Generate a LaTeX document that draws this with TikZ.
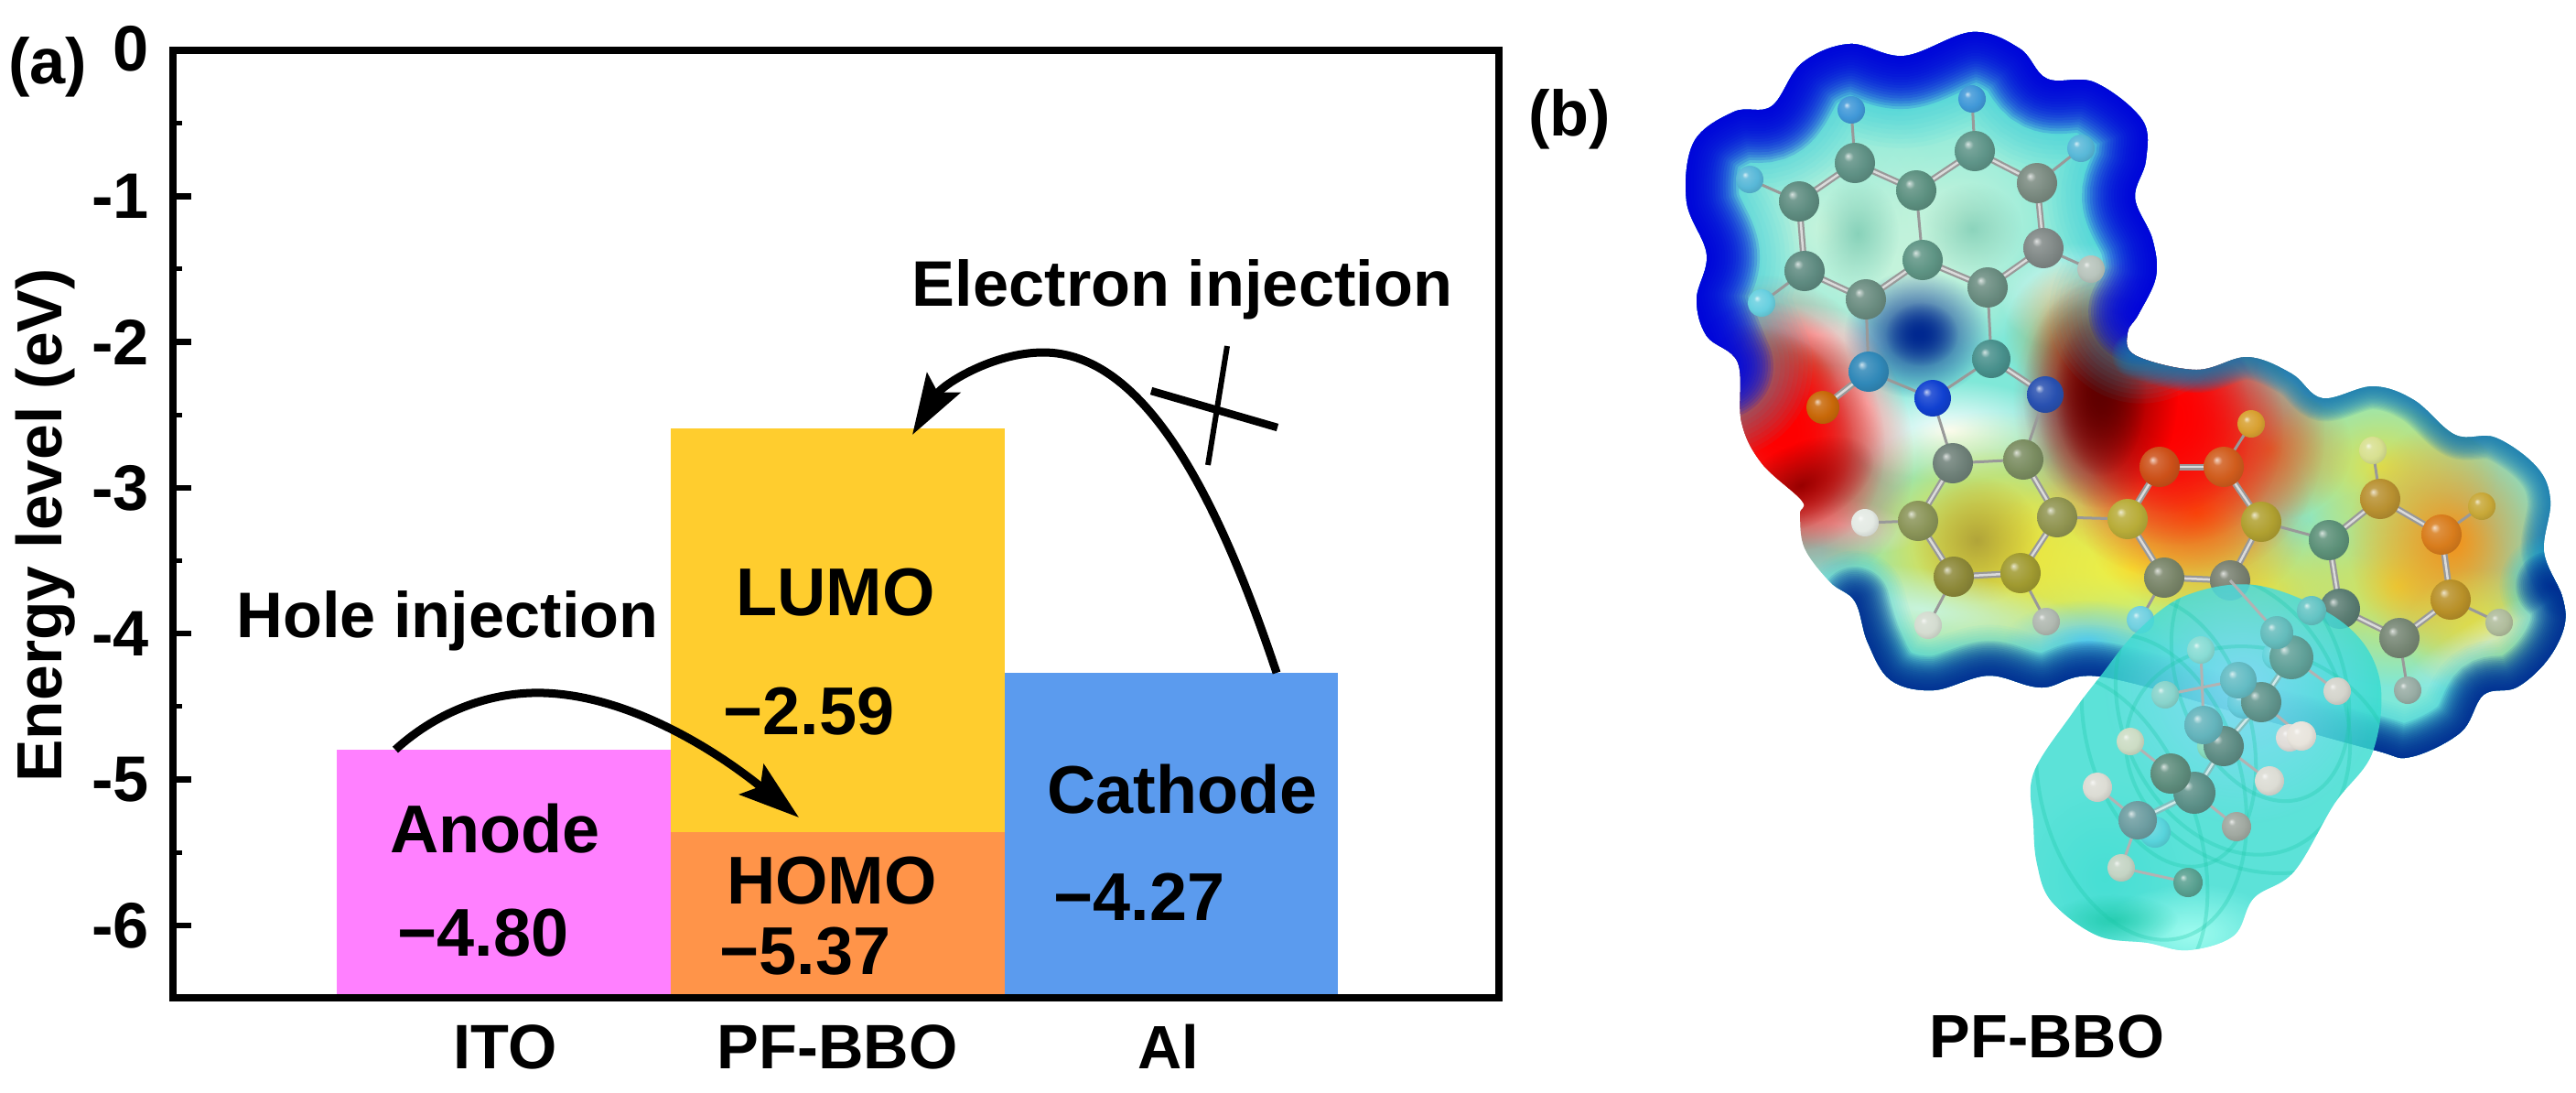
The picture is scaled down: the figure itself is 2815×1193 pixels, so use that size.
\documentclass[tikz,border=0pt]{standalone}
\usepackage{fontspec}
\setmainfont{Liberation Sans}
\usetikzlibrary{arrows.meta,fadings}
\tikzfading[name=softfade, inner color=transparent!0, middle color=transparent!25, outer color=transparent!100]
\definecolor{atomcol}{HTML}{808080}
\pgfdeclareradialshading[atomcol]{softball}{\pgfqpoint{-9bp}{9bp}}{color(0bp)=(atomcol!25!white); color(6bp)=(atomcol!85!white); color(20bp)=(atomcol); color(34bp)=(atomcol!85!black); color(50bp)=(atomcol!65!black)}
\tikzset{
  x=0.01cm,y=-0.01cm,
  every node/.style={inner sep=0pt,outer sep=0pt},
  frameline/.style={black,line width=0.075cm},
  majortick/.style={black,line width=0.065cm},
  minortick/.style={black,line width=0.05cm},
  bar/.style={rectangle,draw=none,anchor=north west},
  lab/.style={font=\fontsize{21}{21}\bfseries\selectfont,anchor=base},
  axlab/.style={font=\fontsize{20}{20}\bfseries\selectfont},
  curvearrow/.style={black,line width=0.09cm,-{Stealth[length=0.66cm,width=0.42cm,inset=0.12cm]}},
  bond/.style={line width=0.03cm,draw=#1},
  bond/.default={gray!80},
  dbond/.style={line width=0.07cm,draw=#1,postaction={draw=white!65!#1,line width=0.025cm}},
  dbond/.default={gray!80},
}
\definecolor{anodec}{HTML}{FF80FF}
\definecolor{lumoc}{HTML}{FFCD2E}
\definecolor{homoc}{HTML}{FF9449}
\definecolor{cathc}{HTML}{5B9BEE}
\definecolor{basemint}{HTML}{7FE8D8}
\definecolor{ringpale}{HTML}{C8F4DC}
\definecolor{ringspot}{HTML}{70C4AC}
\definecolor{rimblue}{HTML}{0000E0}
\definecolor{rimcyan}{HTML}{20C8E8}
\definecolor{rimteal}{HTML}{1878B0}
\definecolor{rimnavy}{HTML}{002890}
\definecolor{espyellow}{HTML}{E8E040}
\definecolor{espbright}{HTML}{F8F038}
\definecolor{espolive}{HTML}{A89A38}
\definecolor{esporange}{HTML}{F49018}
\definecolor{espdeep}{HTML}{E86A10}
\definecolor{espdark}{HTML}{600000}
\definecolor{espbrown}{HTML}{B89028}
\definecolor{alkylc}{HTML}{38DCD0}
\definecolor{alkylarc}{HTML}{1CC8A8}
% soft colour patch: colour, x, y, rx, ry, rotation, opacity
\newcommand{\patch}[7]{\begin{scope}[transform canvas={rotate around={#6:(#2,#3)}}]
  \fill[color=#1,opacity=#7,path fading=softfade] (#2,#3) ellipse[x radius=#4*0.01cm,y radius=#5*0.01cm];
  \end{scope}}
% inner glow along a stretch of the outline
\newcommand{\glow}[4]{\foreach \i in {1,...,20}{
  \draw[color=#1,opacity=#3,line width={\i*#2*0.0005cm},line cap=round]
    plot[smooth,tension=0.6] coordinates {#4};}}
\newcommand{\ball}[3]{\definecolor{atomcol}{HTML}{#2}\shade[shading=softball] (#1) circle[radius=#3*0.01cm];}
\newcommand{\mainoutline}{(2081,61) (2155,35) (2207,53) (2237,86) (2289,90) (2341,131) (2345,175) (2333,216) (2352,261) (2356,302) (2337,343) (2325,363) (2333,388) (2400,404) (2456,390) (2504,408) (2538,435) (2593,422) (2638,437) (2683,475) (2727,478) (2772,510) (2787,547) (2780,603) (2800,652) (2802,685) (2783,722) (2750,751) (2714,759) (2689,800) (2634,827) (2593,819) (2450,780) (2295,739) (2231,751) (2173,738) (2113,754) (2066,743) (2041,702) (2027,657) (2000,636) (1972,599) (1967,562) (1969,547) (1925,506) (1903,461) (1899,396) (1865,367) (1854,327) (1865,278) (1843,220) (1851,155) (1895,122) (1936,116) (1969,69) (2021,48)}
\newcommand{\alkyloutline}{(2335,690) (2295,739) (2264,780) (2222,845) (2222,899) (2226,944) (2242,985) (2292,1022) (2347,1030) (2391,1038) (2441,1022) (2463,981) (2507,952) (2551,878) (2593,821) (2600,740) (2560,680) (2470,640) (2390,650)}
\begin{document}
\begin{tikzpicture}
\useasboundingbox (0,0) rectangle (2815,1193);
% ---------- panel (a): bars
\node[bar,fill=anodec,minimum width=3.65cm,minimum height=2.71cm] (anode) at (368,819) {};
\node[bar,fill=lumoc,minimum width=3.65cm,minimum height=4.42cm] (lumo) at (733,468) {};
\node[bar,fill=homoc,minimum width=3.65cm,minimum height=1.81cm] (homo) at (733,909) {};
\node[bar,fill=cathc,minimum width=3.64cm,minimum height=3.55cm] (cath) at (1098,735) {};
% frame and ticks
\draw[frameline] (189,55) rectangle (1638,1090);
\foreach \v/\t in {1/-1,2/-2,3/-3,4/-4,5/-5,6/-6}{
  \draw[majortick] (189,55+\v*159.3) -- ++(20,0);
  \node[axlab,anchor=east] at (163,55+\v*159.3) {\t};
}
\node[axlab,anchor=east] (zero) at (163,53) {0};
\foreach \v in {0.5,1.5,...,5.5} \draw[minortick] (189,55+\v*159.3) -- ++(10,0);
\node[axlab,font=\fontsize{19.8}{20}\bfseries\selectfont,rotate=90] (ylabel) at (50,574) {Energy level (eV)};
\node[axlab,anchor=center] (panela) at (52,73) {(a)};
\node[axlab,anchor=center] (panelb) at (1715,130) {(b)};
% labels
\node[lab] (tlumo) at (913,672) {LUMO};
\node[lab] (vlumo) at (884,802) {−2.59};
\node[lab] (thomo) at (909,987) {HOMO};
\node[lab] (vhomo) at (880,1064) {−5.37};
\node[lab] (tanode) at (541,931) {Anode};
\node[lab] (vanode) at (528,1044) {−4.80};
\node[lab] (tcath) at (1292,888) {Cathode};
\node[lab] (vcath) at (1245,1005) {−4.27};
\node[lab,font=\fontsize{20}{20}\bfseries\selectfont] (hole) at (489,696) {Hole injection};
\node[lab,font=\fontsize{20}{20}\bfseries\selectfont] (elec) at (1292,334) {Electron injection};
\node[lab,font=\fontsize{19.5}{20}\bfseries\selectfont] (ito) at (552,1167) {ITO};
\node[lab,font=\fontsize{19.5}{20}\bfseries\selectfont] (pf) at (915,1167) {PF-BBO};
\node[lab,font=\fontsize{19}{20}\bfseries\selectfont] (al) at (1277,1167) {Al};
\node[lab,font=\fontsize{19}{20}\bfseries\selectfont] (pfb) at (2237,1155) {PF-BBO};
% arrows
\coordinate (hs) at (432,819); \coordinate (he) at (873,893);
\coordinate (es) at (1395,735); \coordinate (ee) at (997,475);
\draw[curvearrow] (hs) .. controls (480,775) and (540,755) .. (595,757) .. controls (680,760) and (770,810) .. (he);
\draw[curvearrow] (es) .. controls (1330,540) and (1250,385) .. (1140,385) .. controls (1085,385) and (1030,420) .. (ee);
\coordinate (xa) at (1258,427); \coordinate (xb) at (1396,467);
\coordinate (xc) at (1341,378); \coordinate (xd) at (1320,508);
\draw[black,line width=0.085cm] (xa) -- (xb);
\draw[black,line width=0.06cm] (xc) -- (xd);
% ---------- panel (b): electrostatic surface
\begin{scope}
\clip plot[smooth cycle,tension=0.6] coordinates {\mainoutline};
\fill[color=basemint] (1800,0) rectangle (2815,900);
\patch{ringpale}{1995}{250}{140}{150}{0}{1}
\patch{ringpale}{2135}{240}{150}{140}{0}{1}
\patch{ringpale}{2090}{300}{130}{110}{0}{1}
\patch{ringspot}{2030}{255}{45}{60}{0}{.7}
\patch{ringspot}{2155}{250}{55}{50}{0}{.65}
\patch{white}{2270}{325}{85}{60}{0}{1}
\patch{white}{1985}{365}{85}{32}{-10}{.9}
\patch{white}{2130}{470}{125}{55}{0}{1}
\patch{white}{2040}{440}{40}{100}{25}{.9}
\patch{rimnavy}{2095}{365}{80}{70}{0}{1}
\patch{rimnavy}{2100}{365}{40}{35}{0}{1}
% lower yellow-orange region
\patch{espyellow}{2180}{600}{190}{150}{0}{1}
\patch{espyellow}{2180}{600}{140}{110}{0}{1}
\patch{espbright}{2330}{620}{180}{110}{0}{1}
\patch{espyellow}{2470}{650}{130}{90}{0}{1}
\patch{espolive}{2160}{590}{70}{70}{0}{.85}
\patch{espyellow}{2600}{510}{130}{100}{0}{.9}
\patch{espyellow}{2620}{640}{130}{110}{0}{1}
\patch{esporange}{2400}{560}{125}{110}{0}{1}
\patch{esporange}{2680}{590}{115}{130}{0}{1}
\patch{espyellow}{2715}{690}{90}{70}{0}{1}
\patch{espdeep}{2480}{490}{90}{80}{0}{.7}
\patch{white!75!gray}{2010}{572}{85}{30}{-10}{.9}
\patch{ringpale}{2100}{665}{190}{45}{-8}{1}
\patch{white!40!cyan}{2280}{700}{90}{45}{0}{.9}
\patch{white!80!cyan}{2720}{700}{120}{28}{30}{.6}
% red lobes
\patch{espbrown}{2285}{365}{95}{85}{0}{1}
\patch{red}{2370}{455}{165}{185}{30}{1}
\patch{red}{2360}{450}{130}{150}{30}{1}
\patch{red}{2355}{445}{100}{120}{30}{1}
\patch{espdark}{2295}{430}{85}{125}{0}{1}
\patch{espdark}{2295}{430}{50}{90}{0}{1}
\patch{espbrown}{1925}{392}{85}{34}{-15}{1}
\patch{red}{1950}{470}{135}{175}{22}{1}
\patch{red}{1945}{465}{110}{140}{22}{1}
\patch{red}{1940}{460}{80}{110}{22}{1}
\patch{red!60!black}{1968}{530}{85}{45}{25}{1}
% rims
\glow{rimcyan}{200}{.05}{(1880,400) (1854,327) (1865,278) (1843,220) (1851,155) (1895,122) (1936,116) (1969,69) (2021,48) (2081,61) (2155,35) (2207,53) (2237,86) (2289,90) (2341,131) (2345,175) (2333,216) (2352,261) (2356,302) (2340,340)}
\glow{rimblue}{115}{.14}{(1880,400) (1854,327) (1865,278) (1843,220) (1851,155) (1895,122) (1936,116) (1969,69) (2021,48) (2081,61) (2155,35) (2207,53) (2237,86) (2289,90) (2341,131) (2345,175) (2333,216) (2352,261) (2356,302) (2340,340)}
\glow{rimteal}{50}{.09}{(2333,388) (2400,404) (2456,390) (2504,408) (2538,435) (2593,422) (2638,437) (2683,475) (2727,478) (2772,510) (2787,547) (2780,603) (2800,652)}
\glow{rimcyan}{110}{.05}{(2787,640) (2800,652) (2802,685) (2783,722) (2750,751) (2714,759) (2689,800) (2634,827) (2593,819) (2450,780) (2295,739) (2231,751) (2173,738) (2113,754) (2066,743) (2041,702) (2027,657)}
\glow{rimnavy}{75}{.11}{(2787,640) (2800,652) (2802,685) (2783,722) (2750,751) (2714,759) (2689,800) (2634,827) (2593,819) (2450,780) (2295,739) (2231,751) (2173,738) (2113,754) (2066,743) (2041,702) (2027,657)}
\end{scope}
% ---------- atoms of the aromatic core
\foreach \n/\x/\y in {h1/1912/196,h2/2023/120,h3/2155/108,h4/2274/162,c1/1966/220,c2/2027/178,c3/2094/208,c4/2158/165,c5/2226/200,c6/2233/271,h5/2285/294,c7/2172/314,c8/2101/284,c9/1972/296,c10/2039/327,h6/1925/331,c11/2176/392,c12/2042/406,o1/1992/445,n1/2112/435,n2/2235/431,c13/2134/506,c14/2211/502,c15/2096/569,h7/2038/571,c16/2248/565,c17/2325/567,c18/2135/630,c19/2208/626,h8/2460/463,c20/2360/510,c21/2430/510,c22/2471/570,c23/2545/590,h9/2593/492,c24/2601/545,h10/2712/553,c25/2668/584,c28/2678/655,c29/2557/665,c30/2622/697,h13/2731/680,h14/2631/754,c26/2365/631,c27/2437/634,h11/2107/683,h12/2236/679,h15/2339/677}
  \coordinate (\n) at (\x,\y);
\foreach \a/\b in {h1/c1,h2/c2,h3/c4,h4/c5,c3/c8,c6/h5,c9/h6,c10/c12,c7/c11,c12/n1,c11/n1,n1/c13,n2/c14,c13/c14,c15/h7,c16/c17,c22/c23,c24/h9,c25/h10,c28/h13,c30/h14,c18/h11,c19/h12,c26/h15,c21/h8}
  \draw[bond] (\a) -- (\b);
\foreach \a/\b in {c1/c2,c2/c3,c3/c4,c4/c5,c5/c6,c6/c7,c7/c8,c8/c10,c10/c9,c9/c1,c12/o1,c11/n2,c13/c15,c15/c18,c18/c19,c19/c16,c16/c14,c17/c26,c26/c27,c27/c22,c22/c21,c21/c20,c20/c17,c23/c24,c24/c25,c25/c28,c28/c30,c30/c29,c29/c23}
  \draw[dbond] (\a) -- (\b);
\foreach \n/\col/\r in {
 h1/58B8D8/15,h2/4098D8/15,h3/4098D8/15,h4/58B8D8/15,
 c1/5E8C80/22,c2/5E9084/22,c3/5C9080/22,c4/5E9488/22,c5/7A8A80/22,c6/808886/22,h5/B8C4BC/15,c7/6A8C80/22,c8/5E9484/22,c9/5E8A80/22,c10/6A8C80/22,h6/68D0E0/15,
 c11/48908C/21,c12/3088B8/22,o1/C86808/18,n1/1040D0/20,n2/2850B0/20,
 c13/6E8078/22,c14/7A8C60/22,c15/8A9458/22,h7/E4EAE4/15,c16/909450/22,c17/B8AC38/22,c18/8C8838/22,c19/A09A30/22,
 h8/D8A030/15,c20/CC5018/22,c21/D05C1C/22,c22/B0A030/22,c23/5C9078/22,h9/D8E090/15,c24/B89030/22,h10/C8A838/15,c25/D87C1C/22,c28/B89028/22,c29/5A7C72/22,c30/768674/22,h13/B0BC9C/15,h14/98ACA4/15,
 c26/788468/22,c27/788070/22,h11/D4DCD0/15,h12/B0B8B0/15,h15/70D0E0/15}
  \ball{\n}{\col}{\r};
% ---------- translucent alkyl surface
\begin{scope}
\fill[color=alkylc,opacity=.82] plot[smooth cycle,tension=0.6] coordinates {\alkyloutline};
\clip plot[smooth cycle,tension=0.6] coordinates {\alkyloutline};
\patch{cyan!45!white}{2450}{750}{150}{150}{0}{.85}
\patch{alkylc}{2300}{960}{100}{110}{0}{.6}
\patch{green!15!cyan!35!white}{2395}{1020}{100}{55}{0}{.9}
\patch{alkylarc}{2310}{1005}{70}{28}{0}{.8}
\foreach \rx/\ry/\ang/\cx/\cy in {90/150/15/2370/800,110/170/15/2340/860,100/180/20/2300/910,120/160/25/2440/780,90/140/20/2470/740,150/120/-20/2470/830}
  \draw[color=alkylarc,opacity=.3,line width=0.04cm] (\cx,\cy) ellipse[x radius=\rx*0.01cm,y radius=\ry*0.01cm,rotate=\ang];
\end{scope}
% ---------- alkyl atoms
\foreach \n/\x/\y in {a1/2526/667,a2/2488/691,a3/2405/710,a4/2504/718,a5/2488/716,a6/2446/743,a7/2366/759,a8/2471/767,a9/2452/767,a10/2554/755,a11/2515/804,a12/2502/806,a13/2408/792,a14/2430/815,a15/2416/815,a16/2328/810,a17/2480/853,a18/2372/845,a19/2398/866,a20/2292/860,a21/2444/903,a22/2336/896,a23/2355/909,a24/2318/948,a25/2391/964}
  \coordinate (\n) at (\x,\y);
\foreach \a/\b in {a4/a10,a8/a11,a14/a17,a13/a3,a6/a7,a18/a16,a22/a20,a19/a21,a22/a24,a24/a25,a2/c27}
  \draw[bond=gray!60] (\a) -- (\b);
\foreach \a/\b in {a4/a8,a8/a14,a14/a19,a19/a22}
  \draw[dbond=teal!50!white] (\a) -- (\b);
\foreach \n/\col/\r in {a25/58A090/16,a24/C4D4C4/15,a23/58D4DC/17,a22/6C9CA0/21,a21/A0A8A0/16,a20/DCDCD4/16,a19/5C9088/23,a18/5E8C7C/22,a17/DCDCD4/16,a16/CCDCC4/15,a15/88DCBC/15,a14/5E8C84/22,a13/64B4BC/21,a12/E0DCD8/15,a11/E8E4DC/16,a10/D4D4CC/15,a9/64CCDC/18,a8/60948C/22,a7/88D4CC/15,a6/64BCC4/20,a5/64D4DC/16,a4/60A098/24,a3/88DCD4/15,a2/64BCBC/18,a1/64C4C4/16}
  \ball{\n}{\col}{\r};
\end{tikzpicture}
\end{document}
